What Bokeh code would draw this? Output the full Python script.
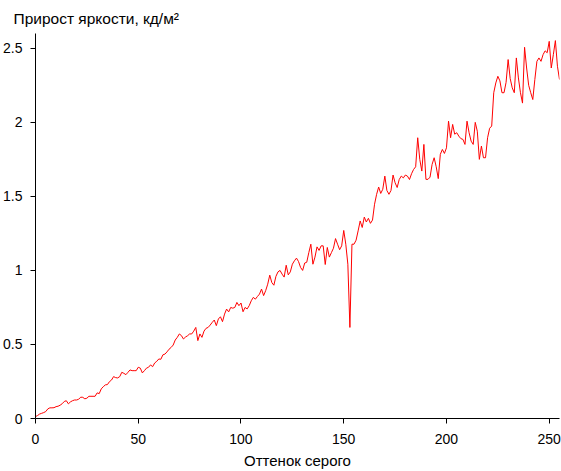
from bokeh.plotting import figure
from bokeh.models import Range1d, FixedTicker, Title
from bokeh.embed import file_html
from bokeh.resources import INLINE

# Gray level (0..255)
gray_level = list(range(256))

# Brightness increment, cd/m^2
brightness_gain = [
    0.013, 0.020, 0.030, 0.035, 0.040, 0.047, 0.065, 0.072, 0.072, 0.073,   # 0-9
    0.080, 0.083, 0.090, 0.100, 0.115, 0.120, 0.099, 0.112, 0.120, 0.125,   # 10-19
    0.125, 0.130, 0.144, 0.143, 0.133, 0.137, 0.150, 0.150, 0.150, 0.150,   # 20-29
    0.173, 0.168, 0.200, 0.215, 0.227, 0.229, 0.249, 0.260, 0.283, 0.276,   # 30-39
    0.274, 0.283, 0.312, 0.305, 0.296, 0.312, 0.328, 0.323, 0.323, 0.323,   # 40-49
    0.346, 0.340, 0.308, 0.323, 0.340, 0.346, 0.362, 0.350, 0.375, 0.386,   # 50-59
    0.402, 0.400, 0.430, 0.435, 0.450, 0.468, 0.480, 0.496, 0.530, 0.548,   # 60-69
    0.571, 0.560, 0.537, 0.550, 0.559, 0.571, 0.571, 0.590, 0.615, 0.526,   # 70-79
    0.571, 0.548, 0.590, 0.609, 0.615, 0.631, 0.649, 0.665, 0.627, 0.672,   # 80-89
    0.687, 0.654, 0.705, 0.739, 0.720, 0.750, 0.745, 0.750, 0.784, 0.762,   # 90-99
    0.780, 0.721, 0.750, 0.740, 0.762, 0.795, 0.818, 0.806, 0.824, 0.840,   # 100-109
    0.874, 0.830, 0.863, 0.907, 0.968, 0.918, 0.900, 0.960, 0.990, 1.000,   # 110-119
    0.975, 0.955, 1.035, 0.970, 0.990, 1.042, 1.065, 1.083, 1.060, 1.020,   # 120-129
    1.000, 1.050, 1.055, 1.120, 1.177, 1.042, 1.090, 1.159, 1.135, 1.166,   # 130-139
    1.166, 1.040, 1.155, 1.090, 1.120, 1.150, 1.215, 1.177, 1.140, 1.166,   # 140-149
    1.270, 1.177, 1.042, 0.615, 1.177, 1.177, 1.204, 1.267, 1.334, 1.290,   # 150-159
    1.360, 1.327, 1.352, 1.318, 1.340, 1.447, 1.514, 1.563, 1.520, 1.548,   # 160-169
    1.637, 1.540, 1.514, 1.540, 1.644, 1.592, 1.560, 1.614, 1.637, 1.625,   # 170-179
    1.644, 1.637, 1.614, 1.653, 1.682, 1.700, 1.896, 1.750, 1.671, 1.851,   # 180-189
    1.615, 1.615, 1.630, 1.716, 1.761, 1.700, 1.620, 1.784, 1.817, 1.790,   # 190-199
    1.828, 2.008, 1.896, 1.986, 1.920, 1.930, 1.907, 1.890, 1.885, 1.851,   # 200-209
    2.008, 1.930, 1.873, 1.851, 2.000, 1.940, 1.750, 1.840, 1.761, 1.761,   # 210-219
    1.896, 1.960, 1.975, 2.200, 2.266, 2.311, 2.280, 2.200, 2.200, 2.270,   # 220-229
    2.424, 2.296, 2.233, 2.200, 2.435, 2.300, 2.200, 2.130, 2.507, 2.367,   # 230-239
    2.250, 2.200, 2.154, 2.289, 2.412, 2.435, 2.412, 2.457, 2.483, 2.470,   # 240-249
    2.547, 2.367, 2.457, 2.552, 2.379, 2.289,                               # 250-255
]

x_ticks = [0, 50, 100, 150, 200, 250]
y_ticks = [0, 0.5, 1, 1.5, 2, 2.5]
y_tick_labels = ["0", "0.5", "1", "1.5", "2", "2.5"]

title_text = "Прирост яркости, кд/м²"
x_label = "Оттенок серого"

FONT = "Liberation Sans"

p = figure(
    width=561, height=471,
    x_range=Range1d(0, 255), y_range=Range1d(0, 2.6),
    output_backend="svg", toolbar_location=None,
    min_border_left=34, min_border_right=2, min_border_top=0, min_border_bottom=53,
    background_fill_color="white", border_fill_color="white",
)
p.outline_line_color = None
p.xgrid.visible = False
p.ygrid.visible = False

p.line(gray_level, brightness_gain, line_color="#ff0000", line_width=1)

for ax in (p.xaxis[0], p.yaxis[0]):
    ax.axis_line_color = "black"
    ax.axis_line_width = 1
    ax.major_tick_line_color = "black"
    ax.major_tick_in = 0
    ax.major_tick_out = 5
    ax.minor_tick_line_color = None
    ax.major_label_text_font = FONT
    ax.major_label_text_font_size = "14px"
    ax.major_label_text_color = "black"

p.xaxis.ticker = FixedTicker(ticks=x_ticks)
p.yaxis.ticker = FixedTicker(ticks=y_ticks)
p.yaxis.major_label_overrides = {t: s for t, s in zip(y_ticks, y_tick_labels)}
p.xaxis.major_label_standoff = 10
p.yaxis.major_label_standoff = 8

p.xaxis.axis_label = x_label
p.xaxis.axis_label_text_font = FONT
p.xaxis.axis_label_text_font_size = "15px"
p.xaxis.axis_label_text_font_style = "normal"
p.xaxis.axis_label_text_color = "black"
p.xaxis.axis_label_standoff = 5

p.add_layout(Title(
    text=title_text, align="left", offset=-22, standoff=14,
    text_font=FONT, text_font_size="15.5px", text_font_style="normal",
    text_color="black",
), "above")

open("out.html", "w").write(file_html(p, INLINE))
